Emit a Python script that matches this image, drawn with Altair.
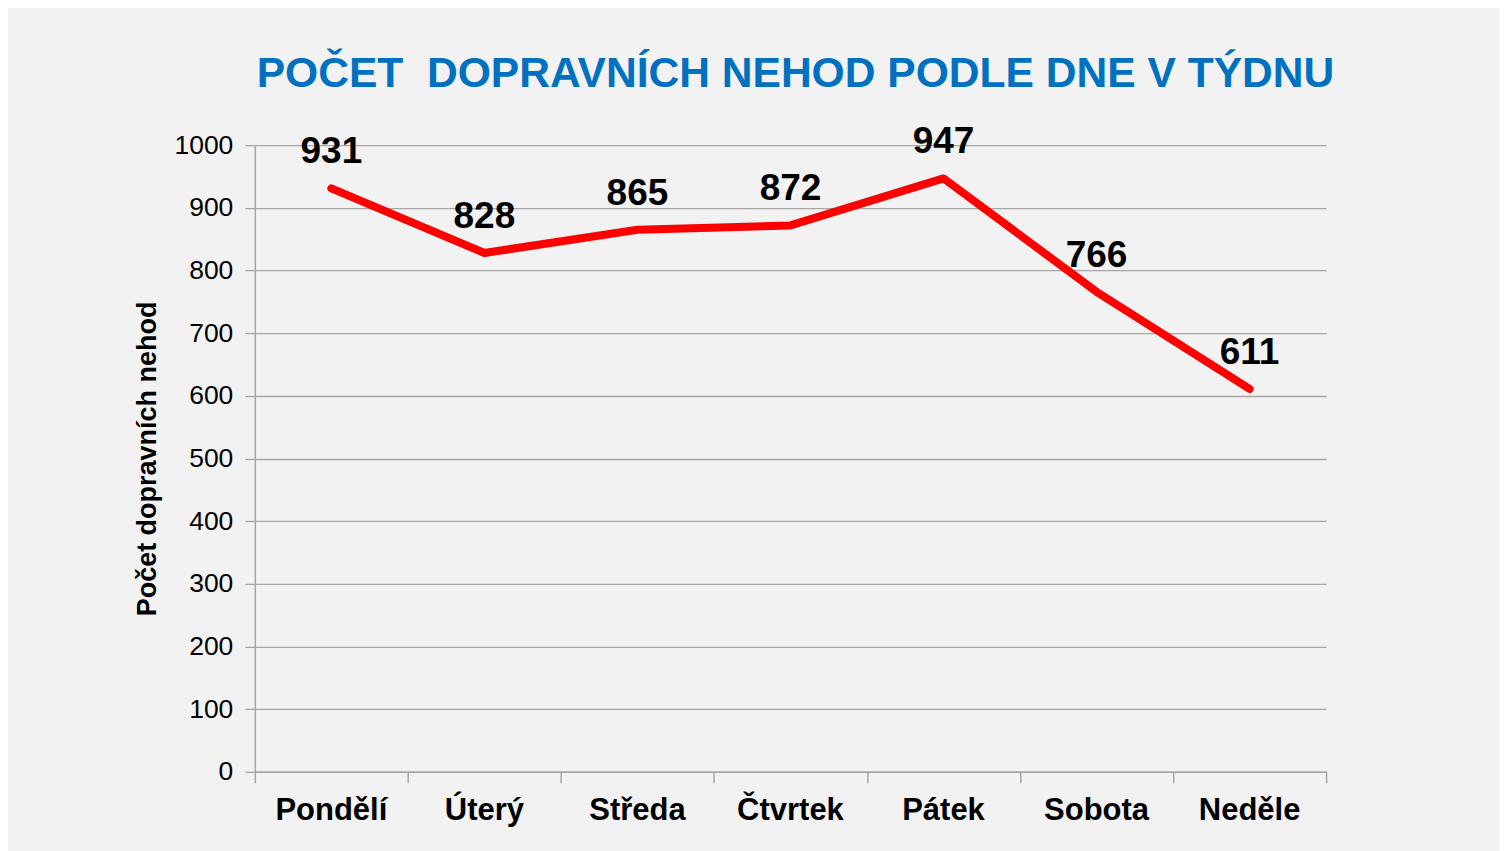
import altair as alt
import pandas as pd

days = ["Pondělí", "Úterý", "Středa", "Čtvrtek", "Pátek", "Sobota", "Neděle"]
counts = [931, 828, 865, 872, 947, 766, 611]
y_ticks = [0, 100, 200, 300, 400, 500, 600, 700, 800, 900, 1000]
x_ticks = [0, 1, 2, 3, 4, 5, 6, 7]

df = pd.DataFrame({"day": days, "count": counts, "pos": [i + 0.5 for i in range(len(days))]})

FONT = "Liberation Sans"
GRAY = "#a6a6a6"
W, H = 1072, 627

xscale = alt.Scale(domain=[0, 7], nice=False, zero=False)
yscale = alt.Scale(domain=[0, 1000], nice=False)

base = alt.Chart(df)

line = base.mark_line(color="#ff0000", strokeWidth=8, strokeCap="round", strokeJoin="round").encode(
    x=alt.X("pos:Q", scale=xscale,
            axis=alt.Axis(values=x_ticks, labels=False, title=None, grid=False,
                          domainColor=GRAY, tickColor=GRAY, tickSize=11, domainWidth=1.5, tickWidth=1.5)),
    y=alt.Y("count:Q", scale=yscale,
            axis=alt.Axis(values=y_ticks, format="d", title="Počet dopravních nehod", grid=True,
                          gridColor=GRAY, gridWidth=1.3, domainColor=GRAY, domainWidth=1.5,
                          tickColor=GRAY, tickSize=10, tickWidth=1.3,
                          labelFont=FONT, labelFontSize=26.5, labelColor="#000000", labelPadding=12,
                          titleFont=FONT, titleFontSize=27, titleFontWeight="bold", titleColor="#000000",
                          titlePadding=12)),
)

labels = base.mark_text(font=FONT, fontSize=37, fontWeight="bold", color="#000000",
                        baseline="alphabetic", dy=-25).encode(
    x=alt.X("pos:Q", scale=xscale),
    y=alt.Y("count:Q", scale=yscale),
    text=alt.Text("count:Q"),
)

cats = base.mark_text(font=FONT, fontSize=31, fontWeight="bold", color="#000000",
                      baseline="alphabetic").encode(
    x=alt.X("pos:Q", scale=xscale),
    y=alt.value(H + 48),
    text="day:N",
)

chart = alt.layer(line, labels, cats).properties(
    width=W, height=H,
    padding={"left": 247, "top": 137, "right": 173, "bottom": 80},
    autosize="none",
    background="#f2f2f2",
    title=alt.TitleParams("POČET\u00a0 DOPRAVNÍCH NEHOD PODLE DNE V TÝDNU", font=FONT, fontSize=42.6,
                          fontWeight="bold", color="#0070c0", anchor="middle", offset=28, dx=5),
).configure_view(stroke=None)

chart.save("out.html", embed_options={"renderer": "svg", "actions": False})
